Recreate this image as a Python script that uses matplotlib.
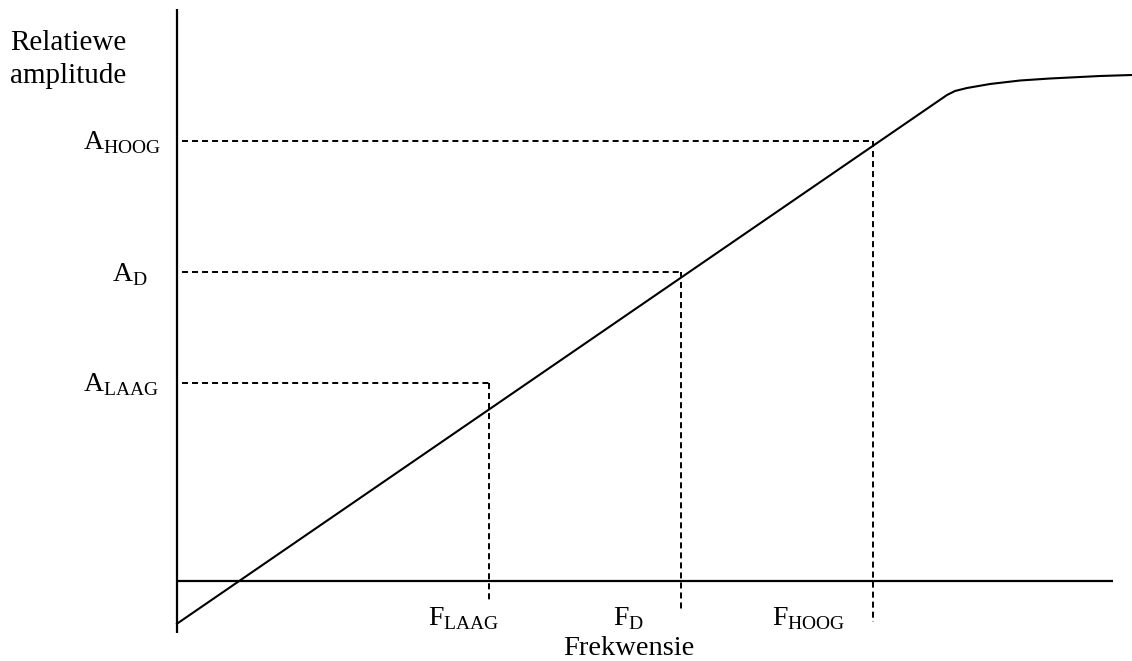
import numpy as np
import matplotlib.pyplot as plt

plt.rcParams['font.family'] = ['Liberation Serif', 'DejaVu Serif']
plt.rcParams['mathtext.fontset'] = 'custom'
plt.rcParams['mathtext.rm'] = 'Liberation Serif'

# response curve (frequency vs relative amplitude, arbitrary units, origin at the axes crossing)
freq = np.array([0, 770, 778, 790, 813, 843, 873, 903, 923, 955])
amp = np.array([-43, 485.7, 489.7, 492.7, 496.7, 500.2, 502.2, 503.7, 504.7, 505.7])

# marked points: laag, D, hoog
f_marks = np.array([312, 504, 696])
a_marks = np.array([198, 309, 440])
f_bottom = np.array([-19, -29, -41])   # where the vertical guides stop
mark_names = ['LAAG', 'D', 'HOOG']

x_axis_end = 936
y_axis_top = 572
y_axis_bottom = -52

fig = plt.figure(figsize=(11.32, 6.61), dpi=100)
ax = fig.add_axes([0, 0, 1, 1])
ax.set_xlim(-177, 955)
ax.set_ylim(-80.3, 580.7)
ax.axis('off')

# axes lines
ax.plot([0, 0], [y_axis_bottom, y_axis_top], color='black', lw=1.6, solid_capstyle='butt')
ax.plot([0, x_axis_end], [0, 0], color='black', lw=1.6, solid_capstyle='butt')

# curve
ax.plot(freq, amp, color='black', lw=1.5)

# dashed guides
dash = (0, (3.1, 2.05))
for f, a, b in zip(f_marks, a_marks, f_bottom):
    ax.plot([5, f], [a, a], color='black', lw=1.4, linestyle=dash)
    ax.plot([f, f], [a, b], color='black', lw=1.4, linestyle=dash)

fs = 20
# y labels (left x, baseline)
ax.text(-167, 530.7, 'Relatiewe', fontsize=21, va='baseline', ha='left')
ax.text(-167, 497.7, 'amplitude', fontsize=21, va='baseline', ha='left')

a_label_x = [-94, -65, -94]
for name, a, lx in zip(mark_names, a_marks, a_label_x):
    ax.text(lx, a - 9, r'A$_{\mathrm{%s}}$' % name, fontsize=fs, va='baseline', ha='left')

f_label_x = [251, 436, 595]
for name, lx in zip(mark_names, f_label_x):
    ax.text(lx, -44.3, r'F$_{\mathrm{%s}}$' % name, fontsize=fs, va='baseline', ha='left')

ax.text(386, -74.3, 'Frekwensie', fontsize=20.5, va='baseline', ha='left')

fig.savefig('out.png', dpi=100)
